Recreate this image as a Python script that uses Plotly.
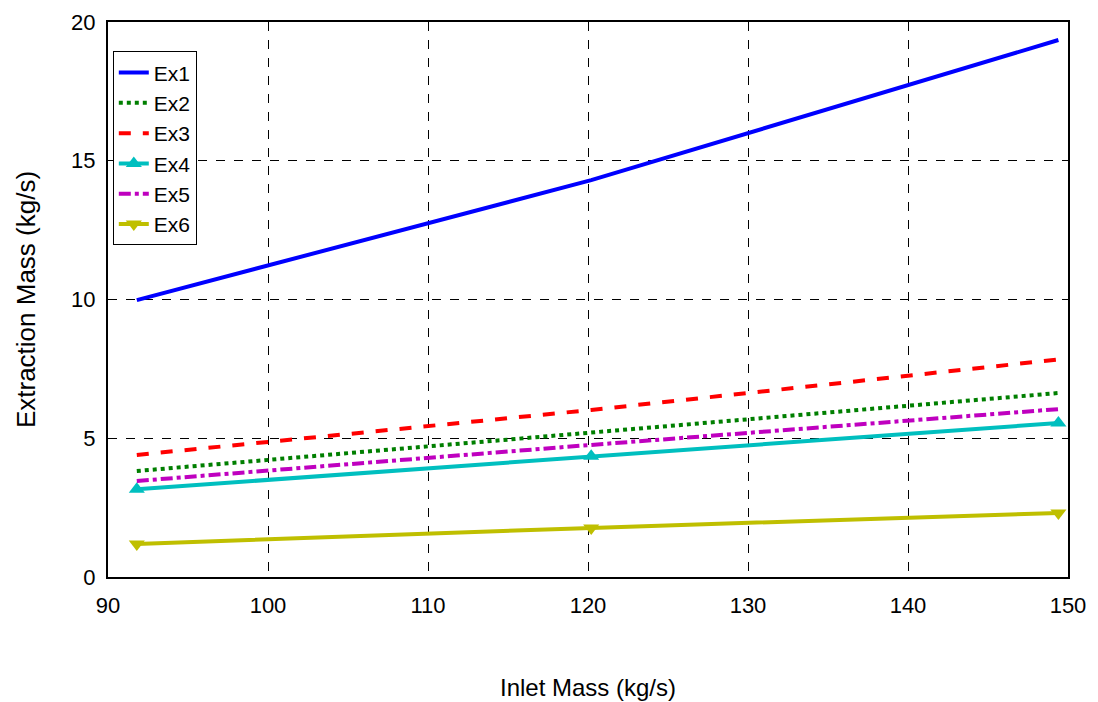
import plotly.graph_objects as go

inlet = [91.8, 120.2, 149.4]
ex1 = [9.98, 14.3, 19.35]
ex2 = [3.82, 5.19, 6.63]
ex3 = [4.40, 6.02, 7.84]
ex4 = [3.16, 4.35, 5.55]
ex5 = [3.46, 4.76, 6.05]
ex6 = [1.19, 1.77, 2.31]

series = [
    ("Ex1", ex1, "#0000ff", "solid", None),
    ("Ex2", ex2, "#007f00", "dot", None),
    ("Ex3", ex3, "#ff0000", "dash", None),
    ("Ex4", ex4, "#00bfbf", "solid", "triangle-up"),
    ("Ex5", ex5, "#bf00bf", "dashdot", None),
    ("Ex6", ex6, "#bfbf00", "solid", "triangle-down"),
]

fig = go.Figure()
for name, ys, color, dash, sym in series:
    kw = dict(mode="lines")
    if sym:
        kw = dict(mode="lines+markers",
                  marker=dict(symbol=sym, size=14, color=color, line=dict(width=0)))
    fig.add_trace(go.Scatter(x=inlet, y=ys, name=name,
                             line=dict(color=color, width=4, dash=dash), **kw))

font = "Liberation Sans, Arial, sans-serif"

axis_common = dict(
    showline=True, linecolor="black", linewidth=2, mirror=True,
    showgrid=True, gridcolor="black", griddash="dash", gridwidth=1,
    zeroline=False, ticks="", automargin=False,
    tickfont=dict(size=22, color="black", family=font),
)

fig.update_layout(
    width=1098, height=702,
    margin=dict(l=108, r=30, t=22, b=125),
    paper_bgcolor="white", plot_bgcolor="white",
    font=dict(family=font, color="black"),
    xaxis=dict(range=[90, 150], dtick=10, ticklabelstandoff=8,
               title=dict(text="Inlet Mass (kg/s)", font=dict(size=24), standoff=62),
               **axis_common),
    yaxis=dict(range=[0, 20], dtick=5, ticklabelstandoff=6,
               title=dict(text="Extraction Mass (kg/s)", font=dict(size=26), standoff=28),
               **axis_common),
    legend=dict(x=0.005, y=0.947, xanchor="left", yanchor="top",
                bgcolor="white", bordercolor="black", borderwidth=1,
                font=dict(size=21)),
    showlegend=True,
)

fig.write_html("out.html")
